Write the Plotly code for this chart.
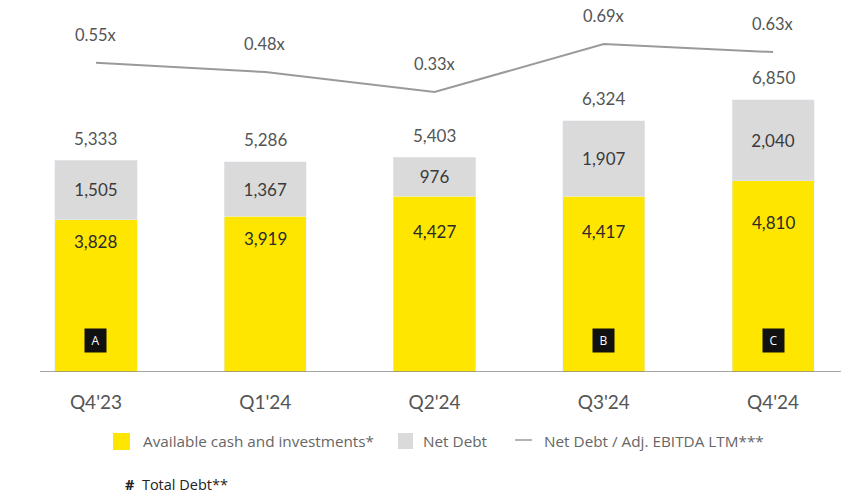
import plotly.graph_objects as go

quarters = ["Q4'23", "Q1'24", "Q2'24", "Q3'24", "Q4'24"]
cash = [3828, 3919, 4427, 4417, 4810]
net_debt = [1505, 1367, 976, 1907, 2040]
total_debt = [5333, 5286, 5403, 6324, 6850]
leverage = [0.55, 0.48, 0.33, 0.69, 0.63]
badges = {0: "A", 3: "B", 4: "C"}

YELLOW = "#FFE600"
GREY = "#DADADA"
LINE = "#9A9A9A"
TXT = "#555555"
FONT = "Lato"
LFONT = "Open Sans"

# figure geometry (page body margin removed via post_script)
W, H = 845, 493
PLOT_H = 372
OFF = 0


def px(ref_x):
    return (ref_x - OFF) / W


def py(ref_y):
    return -(ref_y - OFF - PLOT_H) / PLOT_H


x = list(range(len(quarters)))
# vertical placement of the cash labels (as a share of the cash value)
cash_label_frac = [0.86, 0.86, 0.80, 0.80, 0.78]

fig = go.Figure()
fig.add_trace(go.Bar(x=x, y=cash, marker_color=YELLOW, width=0.485,
                     showlegend=False, hoverinfo="skip"))
fig.add_trace(go.Bar(x=x, y=net_debt, marker_color=GREY, width=0.485,
                     text=[f"{v:,}" for v in net_debt], textposition="inside",
                     insidetextanchor="middle",
                     textfont=dict(family=FONT, size=17, color="#3a3a3a"),
                     showlegend=False, hoverinfo="skip"))
fig.add_trace(go.Scatter(x=x, y=leverage, yaxis="y2", mode="lines",
                         line=dict(color=LINE, width=2), showlegend=False,
                         hoverinfo="skip"))

ann = []
for i in x:
    ann.append(dict(x=i, y=total_debt[i], text=f"{total_debt[i]:,}", showarrow=False,
                    yshift=22, font=dict(family=FONT, size=17, color=TXT)))
    ann.append(dict(x=i, y=cash[i] * cash_label_frac[i], text=f"{cash[i]:,}",
                    showarrow=False, font=dict(family=FONT, size=17, color="#2a2a2a")))
    ann.append(dict(x=i, y=leverage[i], yref="y2", text=f"{leverage[i]:.2f}x",
                    showarrow=False, yshift=28,
                    font=dict(family=FONT, size=16.5, color=TXT)))
for i, b in badges.items():
    ann.append(dict(x=i, y=0, text=b, showarrow=False, yshift=32,
                    bgcolor="#111111", width=19, height=21, borderpad=1,
                    font=dict(family=LFONT, size=12, color="white")))

# manual legend
LY = 441
ann += [
    dict(xref="paper", yref="paper", x=px(141), y=py(LY), yanchor="middle",
         text="Available cash and investments*", xanchor="left", showarrow=False,
         font=dict(family=LFONT, size=15.3, color="#666666")),
    dict(xref="paper", yref="paper", x=px(421), y=py(LY), yanchor="middle",
         text="Net Debt", xanchor="left", showarrow=False,
         font=dict(family=LFONT, size=15.3, color="#666666")),
    dict(xref="paper", yref="paper", x=px(542), y=py(LY), yanchor="middle",
         text="Net Debt / Adj. EBITDA LTM***", xanchor="left", showarrow=False,
         font=dict(family=LFONT, size=15.3, color="#666666")),
    dict(xref="paper", yref="paper", x=px(123), y=py(484), yanchor="middle",
         text="<b>#</b>  Total Debt**", xanchor="left", showarrow=False,
         font=dict(family=LFONT, size=14.5, color="#222222")),
]

shapes = [
    dict(type="line", xref="paper", yref="y", x0=px(40), x1=px(841), y0=0, y1=0,
         line=dict(color="#888888", width=1.5)),
    dict(type="rect", xref="paper", yref="paper", x0=px(113), x1=px(130),
         y0=py(450), y1=py(433), fillcolor=YELLOW, line_width=0),
    dict(type="rect", xref="paper", yref="paper", x0=px(398), x1=px(413),
         y0=py(449), y1=py(433), fillcolor=GREY, line_width=0),
    dict(type="line", xref="paper", yref="paper", x0=px(515), x1=px(532),
         y0=py(440), y1=py(440), line=dict(color=LINE, width=1.5)),
]

# x range: category 0 centred at ref x=96, 169.25 px per category
fig.update_layout(
    barmode="stack",
    width=W, height=H,
    margin=dict(l=0, r=0, t=0, b=H - PLOT_H),
    paper_bgcolor="white", plot_bgcolor="white",
    xaxis=dict(range=[-0.567, 4.425], tickvals=x, ticktext=quarters,
               showgrid=False, zeroline=False, showline=False, ticks="",
               ticklabelstandoff=17,
               tickfont=dict(family=FONT, size=19, color=TXT)),
    yaxis=dict(range=[0, 9358], visible=False),
    yaxis2=dict(range=[-1.775, 1.0217], overlaying="y", visible=False),
    annotations=ann, shapes=shapes, showlegend=False,
)

fig.write_html("out.html", config={"displayModeBar": False},
               post_script="document.body.style.margin='0';document.body.style.overflow='hidden';")
